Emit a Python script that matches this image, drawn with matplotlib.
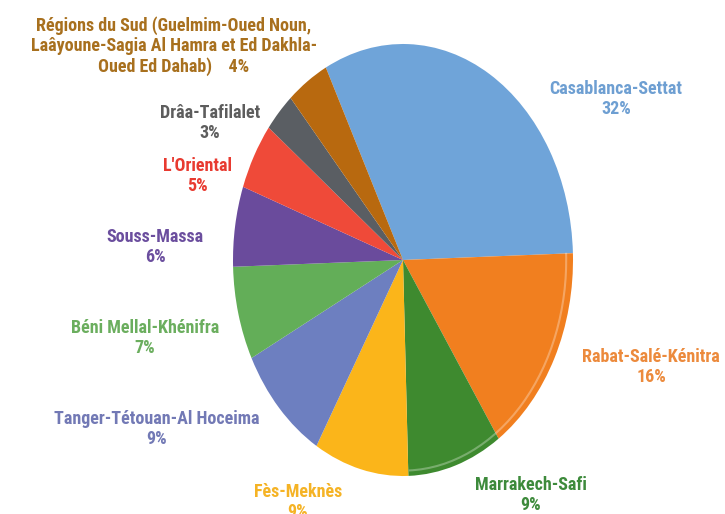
import matplotlib
matplotlib.use("Agg")
import matplotlib.pyplot as plt
from matplotlib import font_manager
from matplotlib.patches import Arc

# data, clockwise from Casablanca-Settat
regions = ["Casablanca-Settat", "Rabat-Salé-Kénitra", "Marrakech-Safi", "Fès-Meknès",
           "Tanger-Tétouan-Al Hoceima", "Béni Mellal-Khénifra", "Souss-Massa",
           "L'Oriental", "Drâa-Tafilalet",
           "Régions du Sud (Guelmim-Oued Noun,\nLaâyoune-Sagia Al Hamra et Ed Dakhla-\nOued Ed Dahab)"]
shares = [32, 16, 9, 9, 9, 7, 6, 5, 3, 4]

slice_colors = ["#6FA4D9", "#F17F1F", "#3E8A2F", "#FBB51A", "#6D7FC0",
                "#63AE58", "#6A4B9C", "#EF4A39", "#5A5E63", "#B8690F"]
text_colors = ["#6E9FD2", "#EC8A3C", "#3D8A3B", "#F5B325", "#7279B5",
               "#6BAE5E", "#6B4E9E", "#E83A30", "#5D5D5D", "#A8701E"]
# label centres in pixels (x, y from top)
label_pos = [(616, 99), (651, 367), (531, 495), (298, 502), (157, 429),
             (145, 338), (155, 247), (197, 176), (210, 123), (174, 46)]

# pick a narrow face if there is one
names = {f.name for f in font_manager.fontManager.ttflist}
narrow = [n for n in ["Liberation Sans Narrow", "DejaVu Sans Condensed", "Roboto Condensed",
                      "Open Sans Condensed", "Noto Sans Condensed"] if n in names]
font = [narrow[0] if narrow else "Roboto", "DejaVu Sans"]
fsize = 13

W, H = 725, 514
fig = plt.figure(figsize=(W / 100, H / 100), dpi=100)
ax = fig.add_axes([0, 0, 1, 1])

cx, cy, rx, ry = 403, 260, 170, 216
wedges, _ = ax.pie(shares, colors=slice_colors, startangle=117, counterclock=False,
                   wedgeprops=dict(linewidth=0))
ax.set_aspect("auto")
ax.set_xlim(-cx / rx, (W - cx) / rx)
ax.set_ylim(-(H - cy) / ry, cy / ry)
ax.axis("off")

# faint bevel on the right rim
ax.add_patch(Arc((0, 0), 1.92, 1.95, theta1=-88, theta2=2, color="white",
                 alpha=0.3, lw=1.5))

for name, val, col, (px, py) in zip(regions, shares, text_colors, label_pos):
    if "\n" in name:
        txt = name + "    %d%%" % val
    else:
        txt = "%s\n%d%%" % (name, val)
    fig.text(px / W, 1 - py / H, txt, ha="center", va="center", color=col,
             fontsize=fsize, fontweight="bold", family=font, linespacing=1.15)

fig.savefig("out.png", dpi=100)
